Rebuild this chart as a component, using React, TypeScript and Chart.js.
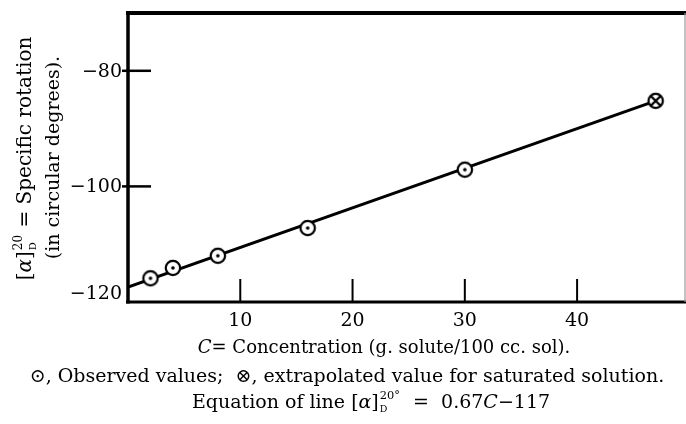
import React, { useEffect, useRef } from "react";
import { Chart, registerables } from "chart.js";

Chart.register(...registerables);

// ---- data ----
const xTickValues = [10, 20, 30, 40];
const yTickValues = [-80, -100, -120];
const observedC = [2, 4, 8, 16, 30];
const observedRot = [-115.9, -114.1, -112.0, -107.2, -97.1];
const saturatedC = [47];
const saturatedRot = [-85.2];
const lineC = [0, 47];
const lineRot = [-117.4, -85.2];

const X_MIN = 0;
const X_MAX = 49.7;
const Y_MIN = -120;
const Y_MAX = -70;

const FONT = "'DejaVu Serif', 'Liberation Serif', serif";

type Run =
  | { t: string; italic?: boolean; scale?: number; dy?: number }
  | { sup: string; sub: string };

function fontStr(size: number, italic?: boolean) {
  return `${italic ? "italic " : ""}${size}px ${FONT}`;
}

function runWidth(ctx: CanvasRenderingContext2D, r: Run, S: number) {
  if ("sup" in r) {
    ctx.font = fontStr(S * 0.6);
    const a = ctx.measureText(r.sup).width;
    ctx.font = fontStr(S * 0.5);
    const b = ctx.measureText(r.sub).width;
    return Math.max(a, b) + 2;
  }
  ctx.font = fontStr(S * (r.scale || 1), r.italic);
  return ctx.measureText(r.t).width;
}

function drawRuns(
  ctx: CanvasRenderingContext2D,
  runs: Run[],
  cx: number,
  cy: number,
  S: number
) {
  const widths = runs.map((r) => runWidth(ctx, r, S));
  const total = widths.reduce((a, b) => a + b, 0);
  let x = cx - total / 2;
  const base = cy + S * 0.36;
  ctx.textAlign = "left";
  ctx.textBaseline = "alphabetic";
  ctx.fillStyle = "#000";
  runs.forEach((r, i) => {
    if ("sup" in r) {
      ctx.font = fontStr(S * 0.6);
      ctx.fillText(r.sup, x + 1, base - S * 0.45);
      ctx.font = fontStr(S * 0.5);
      ctx.fillText(r.sub, x + 1, base + S * 0.22);
    } else {
      ctx.font = fontStr(S * (r.scale || 1), r.italic);
      ctx.fillText(r.t, x, base + (r.dy || 0));
    }
    x += widths[i];
  });
}

function makeMarker(kind: "dot" | "cross") {
  const c = document.createElement("canvas");
  c.width = 20;
  c.height = 20;
  const g = c.getContext("2d")!;
  g.fillStyle = "#fff";
  g.strokeStyle = "#000";
  g.lineWidth = 2.2;
  g.beginPath();
  g.arc(10, 10, 7.2, 0, Math.PI * 2);
  g.fill();
  g.stroke();
  if (kind === "dot") {
    g.fillStyle = "#000";
    g.beginPath();
    g.arc(10, 10, 1.8, 0, Math.PI * 2);
    g.fill();
  } else {
    g.lineWidth = 2.4;
    const d = 5;
    g.beginPath();
    g.moveTo(10 - d, 10 - d);
    g.lineTo(10 + d, 10 + d);
    g.moveTo(10 + d, 10 - d);
    g.lineTo(10 - d, 10 + d);
    g.stroke();
  }
  return c;
}

const decorPlugin = {
  id: "decor",
  afterDatasetsDraw(chart: any) {
    const { ctx, chartArea: a, scales } = chart;
    const xs = scales.x;
    const ys = scales.y;
    ctx.save();
    ctx.strokeStyle = "#000";
    ctx.lineCap = "butt";
    // frame
    ctx.lineWidth = 4;
    ctx.beginPath();
    ctx.moveTo(a.left - 2, a.top);
    ctx.lineTo(a.right, a.top);
    ctx.stroke();
    ctx.lineWidth = 3.5;
    ctx.beginPath();
    ctx.moveTo(a.left, a.top - 2);
    ctx.lineTo(a.left, a.bottom + 1.5);
    ctx.stroke();
    ctx.lineWidth = 3;
    ctx.beginPath();
    ctx.moveTo(a.left - 2, a.bottom);
    ctx.lineTo(a.right, a.bottom);
    ctx.stroke();
    ctx.lineWidth = 1.2;
    ctx.strokeStyle = "#999";
    ctx.beginPath();
    ctx.moveTo(a.right - 1, a.top);
    ctx.lineTo(a.right - 1, a.bottom);
    ctx.stroke();
    ctx.strokeStyle = "#000";

    // x ticks (inward) + labels
    ctx.lineWidth = 2;
    ctx.font = fontStr(19);
    ctx.fillStyle = "#000";
    ctx.textAlign = "center";
    ctx.textBaseline = "middle";
    xTickValues.forEach((v) => {
      const px = xs.getPixelForValue(v);
      ctx.beginPath();
      ctx.moveTo(px, a.bottom);
      ctx.lineTo(px, a.bottom - 23);
      ctx.stroke();
      ctx.fillText(String(v), px, a.bottom + 19);
    });

    // y ticks + labels
    ctx.lineWidth = 2.5;
    ctx.textAlign = "right";
    yTickValues.forEach((v) => {
      const py = ys.getPixelForValue(v);
      if (v !== Y_MIN) {
        ctx.beginPath();
        ctx.moveTo(a.left - 6, py);
        ctx.lineTo(a.left + 23, py);
        ctx.stroke();
      }
      const ly = v === Y_MIN ? py - 9 : py;
      ctx.fillText("\u2212" + String(Math.abs(v)), a.left - 6, ly + 1);
    });

    // y axis title (rotated, two lines)
    const S = 20;
    const cy = (a.top + a.bottom) / 2;
    ctx.save();
    ctx.translate(24, cy + 1);
    ctx.rotate(-Math.PI / 2);
    drawRuns(
      ctx,
      [
        { t: "[" },
        { t: "\u03b1", italic: true },
        { t: "]" },
        { sup: "20", sub: "D" },
        { t: " = Specific rotation" },
      ],
      0,
      0,
      S
    );
    ctx.restore();
    ctx.save();
    ctx.translate(52, cy);
    ctx.rotate(-Math.PI / 2);
    drawRuns(ctx, [{ t: "(in circular degrees)." }], 0, 0, 19);
    ctx.restore();

    // x axis title and notes
    drawRuns(
      ctx,
      [
        { t: "C", italic: true },
        { t: "= Concentration (g. solute/100 cc. sol)." },
      ],
      384,
      347,
      18
    );
    drawRuns(
      ctx,
      [
        { t: "\u2299, Observed values;  \u2297, extrapolated value for saturated solution." },
      ],
      347,
      375,
      19
    );
    drawRuns(
      ctx,
      [
        { t: "Equation of line [" },
        { t: "\u03b1", italic: true },
        { t: "]" },
        { sup: "20\u00b0", sub: "D" },
        { t: "  =  0.67" },
        { t: "C", italic: true },
        { t: "\u2212117" },
      ],
      371,
      401,
      19
    );
    ctx.restore();
  },
};

export default function App() {
  const ref = useRef<HTMLCanvasElement | null>(null);
  useEffect(() => {
    document.body.style.margin = "0";
    const canvas = ref.current!;
    const dotImg = makeMarker("dot");
    const crossImg = makeMarker("cross");
    const chart = new Chart(canvas, {
      type: "scatter",
      data: {
        datasets: [
          {
            label: "line",
            data: lineC.map((c, i) => ({ x: c, y: lineRot[i] })),
            showLine: true,
            borderColor: "#000",
            borderWidth: 3,
            pointRadius: 0,
            order: 3,
          },
          {
            label: "Observed values",
            data: observedC.map((c, i) => ({ x: c, y: observedRot[i] })),
            pointStyle: dotImg as any,
            pointRadius: 8,
            order: 1,
          },
          {
            label: "Extrapolated value for saturated solution",
            data: saturatedC.map((c, i) => ({ x: c, y: saturatedRot[i] })),
            pointStyle: crossImg as any,
            pointRadius: 8,
            order: 1,
          },
        ],
      },
      options: {
        animation: false,
        responsive: false,
        layout: {
          autoPadding: false,
          padding: { left: 128, top: 13, bottom: 122, right: 0 },
        },
        plugins: { legend: { display: false }, tooltip: { enabled: false } },
        scales: {
          x: { type: "linear", min: X_MIN, max: X_MAX, display: false },
          y: { type: "linear", min: Y_MIN, max: Y_MAX, display: false },
        },
      },
      plugins: [decorPlugin],
    });
    return () => chart.destroy();
  }, []);
  return (
    <div style={{ width: 686, height: 424, background: "#fff" }}>
      <canvas ref={ref} width={686} height={424} style={{ display: "block" }} />
    </div>
  );
}
